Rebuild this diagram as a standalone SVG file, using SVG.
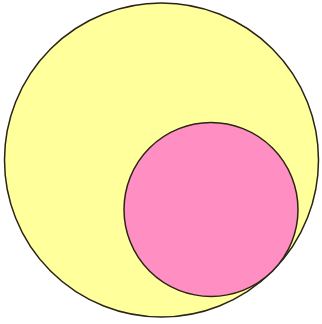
<svg xmlns="http://www.w3.org/2000/svg" width="322" height="324" viewBox="0 0 322 324">
<style>
.c{stroke:#2a2418;stroke-width:1.5}
</style>
<rect width="322" height="324" fill="#ffffff"/>
<g id="outer"><circle class="c" cx="161.5" cy="160" r="157" fill="#ffff9c"/></g>
<g id="inner"><circle class="c" cx="211" cy="209.5" r="87" fill="#ff8fc3"/></g>
</svg>
